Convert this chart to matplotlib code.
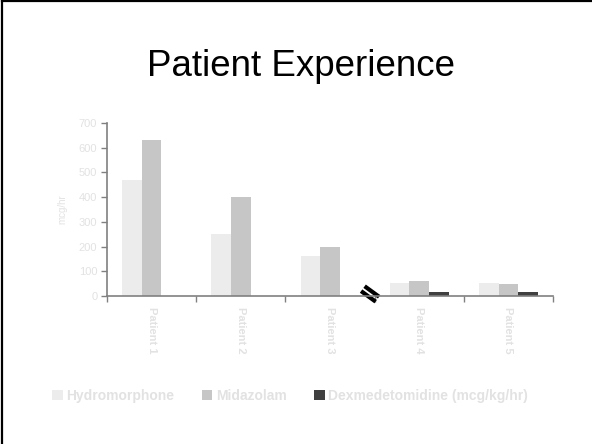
import numpy as np
import matplotlib.pyplot as plt
from matplotlib.lines import Line2D
from matplotlib.patches import Patch

plt.rcParams['font.family'] = ['Liberation Sans', 'DejaVu Sans']

periods = ["Patient 1", "Patient 2", "Patient 3", "Patient 4", "Patient 5"]
hydromorphone = [470, 250, 160, 54, 54]
midazolam = [630, 400, 200, 62, 47]
dexmedetomidine = [0, 0, 0, 15, 15]
series_names = ["Hydromorphone", "Midazolam", "Dexmedetomidine (mcg/kg/hr)"]
series_colors = ["#ececec", "#c6c6c6", "#404040"]
faint = "#e2e2e2"

W, H = 592, 444
fig = plt.figure(figsize=(W / 100, H / 100), dpi=100)

# slide frame (top and left edges)
fig.add_artist(Line2D([0.003, 0.003], [0, 0.997], color="black", lw=1.6))
fig.add_artist(Line2D([0.003, 1], [0.997, 0.997], color="black", lw=1.6))

fig.text(0.508, 0.828, "Patient Experience", ha="center", va="baseline",
         fontsize=26.5, color="black")

ax_box = [0.1807, 0.3333, 0.7534, 0.3897]
ax = fig.add_axes(ax_box)
x = np.arange(len(periods))
w = 0.22
for i, (vals, col) in enumerate(zip([hydromorphone, midazolam, dexmedetomidine], series_colors)):
    ax.bar(x + (i - 1) * w, vals, width=w, color=col, edgecolor="none")

ax.set_xlim(-0.5, len(periods) - 0.5)
ax.set_ylim(0, 700)
ax.set_yticks(range(0, 701, 100))
ax.set_xticks(np.arange(-0.5, len(periods), 1.0))
ax.set_xticklabels([])
ax.set_xticks(x, minor=True)
ax.set_xticklabels(periods, minor=True, rotation=270, fontsize=8,
                   fontweight="bold", color=faint)
ax.tick_params(axis="x", which="minor", length=0, pad=8)
ax.tick_params(axis="both", which="major", direction="out", length=4,
               color="#808080", width=1)
ax.tick_params(axis="y", labelsize=8, labelcolor=faint, pad=3)
for s in ["top", "right"]:
    ax.spines[s].set_visible(False)
for s in ["left", "bottom"]:
    ax.spines[s].set_color("#808080")
    ax.spines[s].set_linewidth(1.2)
ax.set_ylabel("mcg/hr", fontsize=7, color=faint, labelpad=8)

# axis break marker between patient 3 and patient 4 (pixel-sized, axes coords)
ax_w, ax_h = ax_box[2] * W, ax_box[3] * H
cx, cy = (2.45 + 0.5) / len(periods), 0.012
ang = np.deg2rad(-36)
half = 9.0
dx, dy = half * np.cos(ang), half * np.sin(ang)
nx, ny = 3.0 * np.sin(-ang), 3.0 * np.cos(-ang)
for s in (-1, 1):
    ox, oy = s * nx, s * ny
    ax.plot([cx + (ox - dx) / ax_w, cx + (ox + dx) / ax_w],
            [cy + (oy - dy) / ax_h, cy + (oy + dy) / ax_h],
            color="black", lw=3.0, clip_on=False, solid_capstyle="butt",
            transform=ax.transAxes)

handles = [Patch(facecolor=c, edgecolor="none") for c in series_colors]
fig.legend(handles, series_names, loc="center", bbox_to_anchor=(0.49, 0.108),
           ncol=3, frameon=False, handlelength=0.75,
           handleheight=0.75, handletextpad=0.25, columnspacing=2.0,
           labelcolor=faint, prop={"weight": "bold", "size": 10})

fig.savefig("out.png", dpi=100)
